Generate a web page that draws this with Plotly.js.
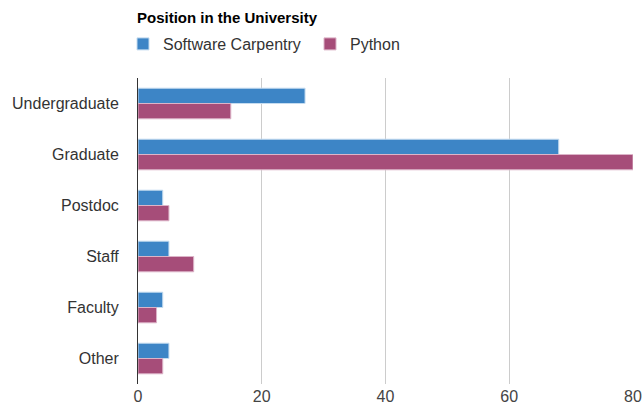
<!DOCTYPE html>
<html>
<head>
<meta charset="utf-8">
<script src="https://cdn.plot.ly/plotly-3.0.1.min.js"></script>
<style>html,body{margin:0;padding:0;background:#fff;}#chart{width:643px;height:406px;}</style>
</head>
<body>
<div id="chart"></div>
<script>
const categories = ["Undergraduate", "Graduate", "Postdoc", "Staff", "Faculty", "Other"];
const softwareCarpentry = [27, 68, 4, 5, 4, 5];
const python = [15, 80, 5, 9, 3, 4];
const xTicks = [0, 20, 40, 60, 80];

const traces = [
  {
    type: "bar", orientation: "h", name: "Software Carpentry",
    y: categories, x: softwareCarpentry,
    marker: {color: "#3d85c6", line: {color: "#c5dcf0", width: 1}},
    hoverinfo: "x+name"
  },
  {
    type: "bar", orientation: "h", name: "Python",
    y: categories, x: python,
    marker: {color: "#a64d79", line: {color: "#dcb4c8", width: 1}},
    hoverinfo: "x+name"
  }
];

const layout = {
  width: 643, height: 406,
  margin: {l: 138, r: 10, t: 78, b: 22},
  paper_bgcolor: "#fff", plot_bgcolor: "#fff",
  font: {family: "Liberation Sans, Arial, sans-serif", size: 16, color: "#333"},
  title: {
    text: "<b>Position in the University</b>",
    font: {family: "Liberation Sans, Arial, sans-serif", size: 15, color: "#000"},
    x: 137 / 643, xref: "container", xanchor: "left",
    y: 1 - 18 / 406, yref: "container", yanchor: "middle"
  },
  barmode: "group",
  bargap: 0.4,
  bargroupgap: 0,
  showlegend: true,
  legend: {
    orientation: "h",
    x: 123 / 643, xref: "container", xanchor: "left",
    y: 1 - 44 / 406, yref: "container", yanchor: "middle",
    font: {size: 16, color: "#333"},
    entrywidth: 142, entrywidthmode: "pixels",
    bgcolor: "rgba(0,0,0,0)"
  },
  xaxis: {
    range: [0, 80],
    tickvals: xTicks,
    ticktext: xTicks.map(String),
    showgrid: true, gridcolor: "#cccccc", gridwidth: 1,
    zeroline: false, showline: false,
    ticks: "", ticklabelstandoff: 1,
    tickfont: {size: 16, color: "#444"},
    fixedrange: true
  },
  yaxis: {
    type: "category",
    categoryorder: "array", categoryarray: categories,
    autorange: "reversed",
    showgrid: false, zeroline: false,
    showline: true, linecolor: "#333", linewidth: 1,
    ticks: "", ticklabelstandoff: 15,
    tickfont: {size: 16, color: "#333"},
    fixedrange: true
  }
};

Plotly.newPlot("chart", traces, layout, {displayModeBar: false, staticPlot: true});
</script>
</body>
</html>
